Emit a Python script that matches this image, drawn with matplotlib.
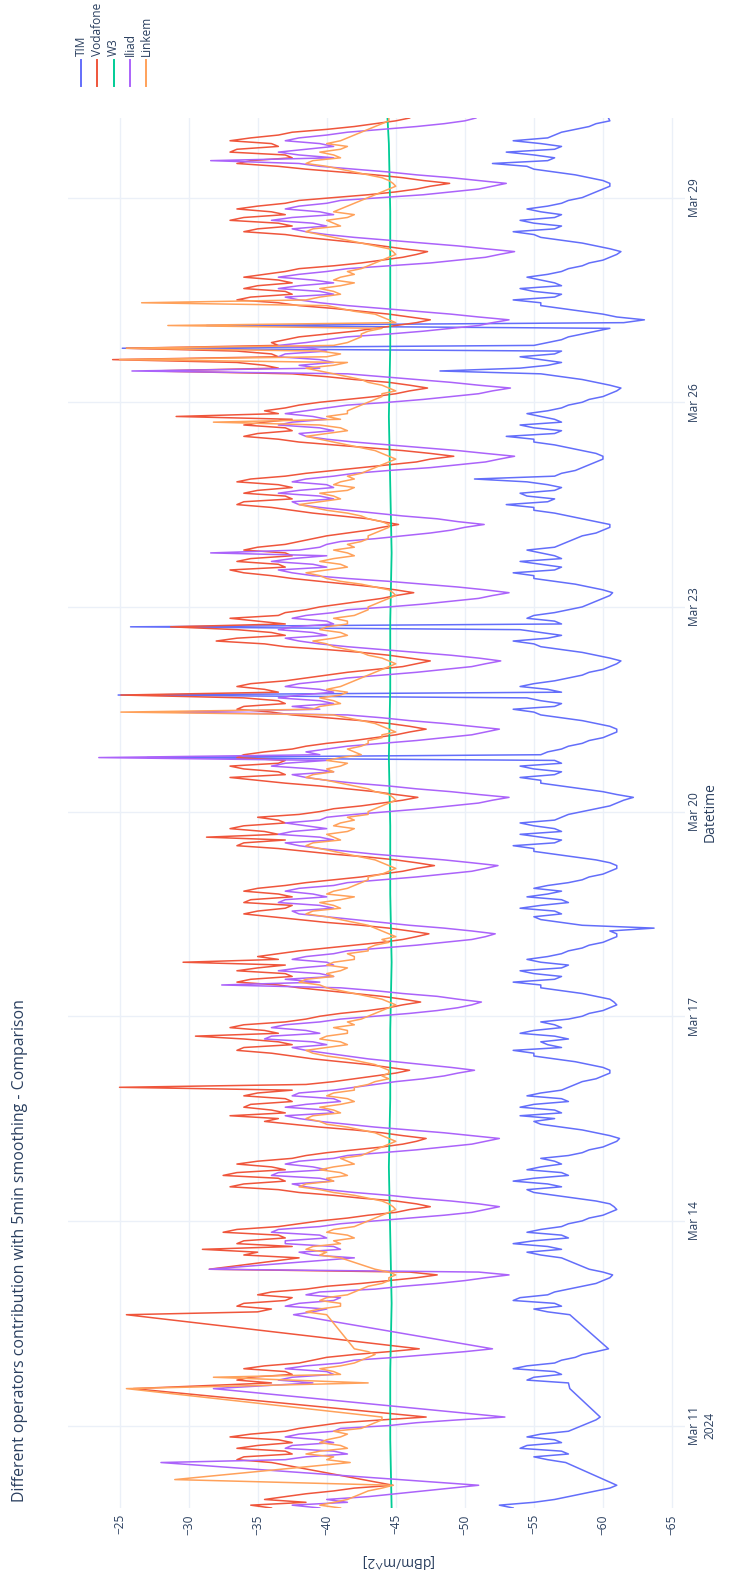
import numpy as np
import pandas as pd
import matplotlib
matplotlib.use("Agg")
import matplotlib.pyplot as plt
from matplotlib.lines import Line2D

plt.rcParams['font.family'] = ['Open Sans', 'DejaVu Sans']

# hourly readings, Mar 9 19:00 -> Mar 30 04:00 (None = no data, line jumps the gap)
times = pd.date_range("2024-03-09 19:00", "2024-03-30 04:00", freq="1h")

# first row Mar 9 19-23h, then one row per day 00..23h, last row Mar 30 00-04h
vodafone = [
    -36.0, -34.5, -38.5, -35.5, -37.0,
    -38.5, -40.5, -42.0, -44.8, None, None, None, None, None, None, None, -36.0, -33.5, -34.0, -37.5, -37.0, -33.5, -35.0, -37.5, -36.5, -33.0, -34.5, -37.0, -38.0,
    -39.5, -41.0, -44.0, -47.2, None, None, None, None, None, None, None, None, None, -26.0, None, -36.0, -33.5, -34.5, -37.5, -37.0, -34.0, -35.5, -38.0, -39.0,
    -40.0, -42.0, -44.5, -46.7, None, None, None, None, None, None, None, None, None, None, None, -25.5, -35.0, -36.0, -33.5, -34.0, -37.0, -37.5, -35.0, -36.0,
    -38.5, -40.0, -42.5, -44.5, -46.5, -48.0, -46.0, -31.5, None, None, None, -38.0, -34.0, -35.0, -31.0, -37.5, -33.5, -34.0, -37.0, -36.5, -32.5, -33.5, -36.5, -38.0,
    -39.5, -41.5, -43.0, -45.0, -46.0, -47.5, -46.5, -45.0, -42.5, -40.5, -38.0, -36.5, -33.0, -34.0, -37.0, -36.5, -32.5, -33.5, -37.0, -36.0, -33.5, -35.0, -37.5, -38.5,
    -40.0, -42.0, -44.0, -45.5, -46.5, -47.2, -45.5, -44.0, -42.0, -39.5, -37.5, -35.5, -36.5, -33.0, -37.0, -36.0, -34.0, -34.5, -37.5, -37.0, -34.0, -35.0, -37.5, -25.0,
    -38.5, -40.5, -42.0, -43.5, -45.0, -46.0, -44.5, -43.0, -41.0, -39.0, -37.5, -36.0, -33.5, -34.0, -37.5, -36.5, -34.0, -30.5, -36.5, -35.5, -33.0, -34.0, -37.0, -38.5,
    -39.5, -41.0, -43.0, -44.5, -45.5, -46.8, -45.5, -44.0, -42.0, -40.0, -38.0, -36.5, -33.5, -34.5, -37.5, -37.0, -33.5, -35.0, -37.0, -29.6, -36.5, -35.0, -36.5, -38.0,
    -40.0, -42.0, -44.0, -45.5, -46.5, -47.4, -46.0, -44.5, -42.5, -40.0, -38.0, -36.0, -34.0, -35.0, -37.0, -37.5, -34.0, -34.5, -37.5, -36.5, -34.0, -35.0, -37.0, -38.5,
    -40.5, -42.5, -44.0, -45.5, -46.5, -47.8, -46.5, -45.0, -43.0, -40.5, -38.5, -36.5, -33.5, -34.0, -37.0, -31.3, -36.5, -35.5, -33.0, -34.0, -37.0, -36.5, -35.0, -38.0,
    -39.5, -40.5, -42.5, -44.0, -45.5, -46.6, -45.0, -43.5, -41.5, -39.5, -37.0, -35.0, -33.0, -37.0, -36.5, -34.0, -33.0, -36.5, -37.0, -33.5, -34.0, -35.5, -37.5, -38.5,
    -40.0, -42.0, -43.5, -45.0, -46.0, -47.2, -46.0, -44.5, -42.5, -40.0, -37.5, -36.0, -33.5, -34.0, -37.0, -36.5, -34.0, -25.1, -36.5, -35.5, -33.5, -34.5, -37.0, -38.5,
    -40.0, -41.5, -43.5, -45.5, -46.5, -47.5, -46.0, -44.5, -42.5, -40.0, -37.0, -35.5, -32.0, -33.5, -37.0, -36.0, -33.5, -28.7, -37.0, -35.0, -33.0, -36.5, -37.0, -38.5,
    -39.5, -41.0, -42.5, -44.0, -45.0, -46.3, -45.0, -43.5, -41.5, -39.5, -37.5, -36.0, -34.0, -33.0, -37.0, -36.5, -33.5, -34.5, -37.5, -37.0, -34.0, -35.0, -37.0, -38.0,
    -39.0, -40.0, -41.5, -43.0, -44.0, -45.2, -44.0, -43.0, -41.0, -39.0, -37.5, -36.0, -33.5, -34.0, -37.5, -37.0, -34.0, -35.0, -37.5, -36.5, -33.5, -34.5, -37.0, -38.5,
    -40.5, -42.5, -44.5, -46.5, -47.5, -49.2, -47.5, -45.5, -43.0, -40.5, -38.0, -36.5, -34.0, -35.0, -37.5, -37.0, -34.0, -35.5, -37.5, -29.1, -36.5, -35.5, -37.0, -38.0,
    -39.5, -41.5, -43.5, -45.0, -46.0, -47.3, -46.0, -44.5, -42.0, -40.0, -37.5, -27.3, -36.5, -35.5, -33.5, -24.5, -36.5, -36.0, -33.5, -25.5, -36.5, -36.0, -37.0, -38.0,
    -40.0, -42.0, -43.5, -45.0, -46.5, -47.5, -46.0, -44.5, -42.5, -40.5, -38.0, -36.5, -33.5, -34.5, -37.5, -37.0, -34.0, -35.0, -37.5, -36.5, -34.0, -35.5, -37.0, -38.0,
    -40.5, -42.5, -44.0, -45.5, -46.5, -47.3, -45.5, -44.0, -42.5, -40.5, -38.5, -37.0, -34.0, -35.0, -37.5, -36.5, -33.0, -34.0, -37.0, -36.0, -33.5, -35.0, -37.0, -38.0,
    -40.5, -43.0, -45.0, -46.5, -47.5, -48.9, -47.0, -45.5, -43.5, -41.0, -38.5, -36.5, -33.5, -34.5, -37.5, -37.0, -33.0, -33.5, -36.5, -36.0, -33.0, -34.5, -36.5, -37.5,
    -40.0, -42.0, -43.5, -45.0, -46.0,
]

iliad = [
    -39.5, -37.5, -41.5, -40.0, -43.0,
    -45.0, -47.0, -49.0, -51.0, None, None, None, None, None, None, None, -28.0, -37.0, -38.5, -41.5, -40.5, -37.0, -37.5, -40.5, -39.5, -37.0, -38.0, -40.5, -41.0,
    -44.5, -46.5, -49.5, -52.9, None, None, None, None, None, None, None, None, None, -31.8, None, -39.0, -36.5, -37.5, -40.5, -40.0, -37.0, -38.5, -41.0, -42.0,
    -45.0, -47.5, -50.0, -52.0, None, None, None, None, None, None, None, None, None, None, None, -37.6, -39.0, -40.0, -37.0, -38.0, -40.5, -41.0, -38.5, -39.5,
    -43.5, -45.5, -48.0, -50.0, -51.5, -53.2, -51.0, -31.5, None, None, None, -42.0, -39.0, -38.0, -41.0, -40.5, -37.0, -37.0, -40.0, -39.5, -36.0, -36.5, -39.5, -41.0,
    -43.5, -46.0, -48.5, -50.5, -51.5, -52.5, -51.0, -49.0, -46.5, -44.5, -42.0, -40.0, -38.5, -37.5, -40.5, -39.5, -36.0, -36.5, -40.0, -39.0, -37.0, -38.0, -40.5, -41.5,
    -44.0, -46.5, -48.5, -50.5, -51.5, -52.5, -50.5, -48.5, -46.0, -43.5, -41.5, -39.5, -38.0, -37.0, -40.5, -40.0, -37.0, -38.5, -41.0, -40.5, -37.5, -38.0, -40.5, -42.0,
    -43.5, -45.0, -47.0, -48.5, -49.5, -50.7, -49.0, -47.0, -45.0, -43.0, -41.5, -40.0, -38.5, -37.5, -40.0, -39.0, -35.5, -36.0, -39.5, -38.5, -36.0, -37.0, -39.5, -41.0,
    -43.5, -46.0, -48.0, -49.5, -50.5, -51.2, -49.5, -48.0, -45.5, -43.5, -41.0, -32.4, -39.5, -37.0, -40.5, -39.5, -36.5, -38.0, -40.5, -40.0, -37.5, -38.5, -40.5, -41.5,
    -44.0, -46.5, -48.5, -50.5, -51.5, -52.2, -50.5, -48.5, -46.0, -44.0, -42.0, -40.0, -38.0, -37.5, -40.5, -39.5, -36.5, -37.0, -40.0, -39.0, -37.0, -38.0, -40.5, -41.5,
    -44.0, -46.5, -48.5, -50.5, -51.5, -52.4, -50.5, -48.5, -46.0, -43.5, -41.5, -39.5, -38.0, -37.0, -40.5, -39.5, -36.5, -37.5, -40.0, -38.5, -37.0, -39.5, -40.0, -42.0,
    -44.5, -47.0, -49.0, -51.0, -52.0, -53.2, -51.0, -49.0, -46.5, -44.5, -42.0, -40.0, -38.5, -37.5, -40.5, -39.0, -36.0, -37.0, -40.0, -23.5, -39.5, -38.5, -40.0, -41.5,
    -44.0, -46.5, -48.5, -50.5, -51.5, -52.5, -50.5, -48.5, -46.0, -44.0, -41.5, -28.7, -39.5, -37.5, -40.5, -39.5, -36.5, -38.0, -40.5, -39.5, -37.0, -38.0, -40.0, -41.5,
    -44.0, -46.5, -48.5, -50.5, -51.5, -52.6, -51.0, -49.0, -46.5, -44.0, -41.5, -39.5, -38.0, -37.0, -40.0, -39.0, -36.5, -37.5, -40.5, -40.0, -37.5, -38.5, -40.5, -41.5,
    -44.5, -47.0, -49.0, -51.0, -52.0, -53.2, -51.5, -49.5, -47.0, -44.5, -41.5, -39.0, -37.5, -36.5, -40.0, -39.0, -36.0, -37.5, -40.0, -31.6, -38.0, -39.5, -40.0, -41.0,
    -43.5, -45.5, -47.5, -49.0, -50.0, -51.4, -49.5, -48.0, -45.5, -43.5, -41.5, -39.5, -38.0, -37.5, -40.5, -39.5, -36.5, -38.0, -40.5, -40.0, -37.5, -38.5, -40.5, -42.0,
    -44.5, -47.5, -49.5, -51.5, -52.5, -53.6, -51.5, -49.5, -47.0, -44.5, -42.0, -40.0, -38.5, -38.0, -40.5, -39.5, -36.5, -37.5, -40.0, -39.0, -37.0, -38.5, -40.0, -41.5,
    -44.5, -47.0, -49.0, -51.0, -52.0, -53.3, -51.0, -49.0, -46.5, -44.0, -41.5, -25.9, -39.5, -38.0, -40.5, -39.5, -36.5, -37.0, -40.0, -39.0, -36.5, -38.5, -40.0, -41.5,
    -44.5, -47.0, -49.0, -51.0, -52.0, -53.2, -51.0, -49.0, -46.5, -44.0, -41.5, -39.5, -38.0, -37.0, -40.5, -39.5, -36.5, -38.0, -40.5, -39.0, -36.5, -38.0, -40.0, -41.5,
    -44.5, -47.5, -49.5, -51.5, -52.5, -53.6, -51.5, -49.5, -47.0, -44.5, -42.0, -40.0, -38.5, -37.5, -40.0, -39.0, -36.0, -37.5, -40.5, -39.5, -37.0, -38.0, -40.0, -41.0,
    -44.0, -47.0, -49.0, -51.0, -52.0, -53.0, -51.0, -49.0, -46.5, -44.5, -42.0, -39.5, -38.0, -31.6, -40.5, -38.0, -36.5, -38.5, -40.5, -39.5, -37.0, -38.0, -40.0, -41.5,
    -44.0, -46.5, -48.5, -50.0, -50.8,
]

linkem = [
    -41.0, -39.5, -40.5, -41.5, -42.0,
    -42.5, -43.0, -44.0, -44.8, None, -29.0, None, None, None, None, None, -41.7, -40.0, -40.5, -38.5, -39.5, -41.5, -41.0, -39.5, -40.0, -41.0, -41.5, -40.5, -42.5,
    -43.0, -43.5, -44.0, -44.0, None, None, None, None, None, None, None, None, None, -25.5, None, -43.0, None, -31.8, -41.0, -40.5, -39.5, -41.0, -42.0, -42.5,
    -43.0, -43.5, -43.0, -42.0, None, None, None, None, None, None, None, None, None, None, None, -40.0, -38.5, -39.5, -41.0, -41.0, -39.5, -40.0, -41.5, -42.0,
    -42.5, -43.0, -44.0, -44.5, -44.5, -45.0, -44.5, -43.5, None, None, None, -41.0, -39.5, -40.0, -38.5, -39.0, -41.0, -40.5, -42.0, -41.5, -40.0, -40.5, -42.0, -42.5,
    -43.0, -43.5, -44.0, -44.5, -45.0, -44.8, -44.5, -44.0, -43.0, -42.0, -40.5, -39.5, -38.0, -38.5, -40.5, -40.0, -41.5, -41.0, -39.5, -40.5, -42.0, -41.5, -41.0, -42.5,
    -43.0, -43.5, -44.0, -44.5, -45.0, -44.5, -44.0, -43.5, -42.5, -41.5, -40.0, -39.5, -38.5, -39.0, -41.0, -40.5, -39.5, -41.0, -42.0, -41.5, -40.0, -40.5, -42.0, -42.0,
    -43.0, -43.5, -44.5, -44.0, -44.5, -44.5, -44.0, -43.5, -42.5, -41.5, -40.0, -39.0, -38.5, -40.0, -41.5, -41.0, -39.5, -40.0, -41.5, -41.5, -40.5, -42.0, -41.5, -42.5,
    -43.0, -43.5, -44.0, -44.5, -45.0, -44.5, -44.0, -43.0, -42.0, -41.0, -40.0, -39.5, -38.0, -38.5, -40.5, -40.0, -41.0, -41.5, -40.0, -40.5, -42.0, -42.0, -41.5, -43.0,
    -43.0, -43.5, -44.5, -44.0, -45.0, -44.5, -44.0, -43.5, -43.0, -42.0, -41.0, -40.0, -38.5, -39.0, -41.0, -40.5, -39.5, -41.0, -42.0, -40.0, -40.5, -41.5, -42.0, -42.5,
    -43.0, -43.0, -44.0, -44.5, -45.0, -44.5, -44.0, -43.5, -42.5, -41.5, -40.5, -39.5, -38.5, -39.0, -41.0, -40.5, -40.0, -41.5, -42.0, -40.5, -41.0, -42.0, -41.5, -43.0,
    -43.0, -43.5, -44.0, -44.5, -45.0, -44.8, -44.5, -43.5, -43.0, -42.0, -41.0, -40.0, -38.5, -39.0, -40.5, -40.0, -41.0, -41.5, -40.0, -41.0, -42.5, -42.0, -41.5, -42.5,
    -43.0, -43.0, -44.0, -44.0, -45.0, -44.5, -44.0, -43.5, -42.5, -41.5, -40.5, -25.1, -39.0, -39.5, -41.0, -40.5, -39.5, -41.0, -41.5, -40.0, -41.0, -41.5, -42.0, -42.5,
    -43.0, -43.5, -44.0, -44.5, -45.0, -44.5, -44.0, -43.0, -42.5, -41.5, -40.5, -40.0, -39.0, -40.5, -41.5, -41.0, -39.5, -40.0, -41.5, -41.5, -40.5, -42.0, -42.5, -43.0,
    -43.0, -43.5, -44.0, -44.5, -45.0, -44.8, -44.5, -43.5, -42.5, -41.0, -40.0, -39.5, -38.5, -40.0, -41.5, -41.0, -39.5, -40.5, -42.0, -41.5, -40.5, -42.0, -41.5, -42.5,
    -43.0, -43.0, -43.5, -44.0, -44.5, -44.5, -44.0, -43.0, -42.5, -41.5, -40.0, -39.0, -38.0, -39.5, -41.0, -40.5, -39.5, -41.5, -42.0, -40.5, -41.0, -42.0, -41.5, -42.5,
    -43.0, -43.5, -44.0, -44.5, -45.0, -44.5, -44.0, -43.5, -42.5, -41.5, -40.5, -39.5, -38.5, -40.0, -41.5, -41.0, -39.5, -31.8, -41.0, -40.0, -41.5, -41.5, -42.0, -42.5,
    -43.0, -43.5, -44.0, -44.0, -45.0, -44.5, -44.0, -43.0, -42.5, -41.5, -40.5, -39.5, -38.5, -40.5, -41.5, -25.0, -40.0, -41.0, -39.5, -25.5, -40.5, -41.5, -42.0, -42.5,
    -42.5, -43.0, -44.0, -28.5, -45.0, -44.5, -44.0, -43.5, -42.0, -41.0, -40.0, -26.6, -38.5, -39.5, -41.0, -40.5, -39.5, -41.0, -42.0, -40.5, -41.0, -42.0, -41.5, -42.5,
    -43.0, -43.5, -44.0, -44.5, -45.0, -44.8, -44.5, -43.5, -42.5, -41.5, -40.5, -39.5, -38.5, -39.0, -41.0, -40.5, -40.0, -41.5, -42.0, -40.5, -41.0, -41.5, -42.0, -42.5,
    -43.0, -43.5, -44.0, -44.5, -45.0, -44.8, -44.5, -44.0, -43.0, -42.0, -41.0, -40.0, -38.5, -39.0, -41.0, -40.5, -39.5, -41.0, -41.5, -40.0, -41.0, -41.5, -42.0, -42.5,
    -43.0, -43.5, -44.0, -44.5, -44.5,
]

tim = [
    -53.5, -52.5, -55.0, -56.5, -57.5,
    -58.5, -59.5, -60.5, -61.0, None, None, None, None, None, None, None, -57.3, -56.0, -55.0, -57.5, -57.0, -54.0, -54.5, -57.0, -56.5, -54.5, -55.5, -57.5, -58.0,
    -58.5, -59.0, -59.5, -59.8, None, None, None, None, None, None, None, None, None, -57.6, None, -57.5, -54.5, -55.0, -57.0, -56.5, -53.5, -54.5, -56.5, -57.0,
    -58.0, -58.5, -59.5, -60.4, None, None, None, None, None, None, None, None, None, None, None, -57.6, -56.0, -55.0, -57.0, -56.5, -53.5, -54.0, -56.0, -56.5,
    -57.5, -58.5, -59.5, -60.0, -60.5, -60.7, -60.0, -59.0, None, None, None, -57.0, -55.5, -54.5, -57.0, -56.0, -53.5, -55.0, -57.5, -57.0, -54.5, -55.5, -57.0, -57.5,
    -58.5, -59.0, -60.0, -60.5, -61.0, -60.8, -60.5, -59.5, -58.0, -56.5, -55.0, -54.5, -57.0, -56.0, -53.5, -55.0, -57.5, -57.0, -54.5, -55.5, -57.0, -56.5, -55.5, -57.5,
    -58.5, -59.0, -60.0, -60.5, -61.0, -61.2, -60.5, -59.5, -58.5, -57.0, -55.5, -55.0, -56.5, -54.0, -57.0, -56.5, -54.0, -55.0, -57.5, -57.0, -54.5, -55.5, -57.0, -57.5,
    -58.0, -58.5, -59.5, -60.0, -60.5, -60.5, -60.0, -59.0, -58.0, -56.5, -55.0, -55.0, -53.5, -57.0, -56.0, -55.5, -57.5, -56.5, -54.0, -55.0, -57.0, -56.5, -55.5, -57.5,
    -58.5, -59.0, -60.0, -60.5, -61.0, -60.8, -60.5, -59.5, -58.5, -57.0, -55.5, -55.5, -53.5, -56.5, -57.0, -55.0, -54.0, -57.0, -57.5, -55.5, -54.5, -56.0, -57.0, -57.5,
    -58.5, -59.0, -60.0, -60.5, -61.0, -61.0, -60.5, -63.7, -58.5, -57.0, -55.5, -55.0, -57.0, -56.5, -54.0, -55.5, -57.5, -57.0, -54.5, -56.0, -57.0, -55.0, -56.0, -57.5,
    -58.5, -59.0, -60.0, -60.5, -61.0, -61.0, -60.5, -59.5, -58.0, -56.5, -55.0, -55.0, -53.5, -56.5, -57.0, -55.5, -54.0, -57.0, -56.5, -55.0, -54.0, -56.5, -57.0, -57.5,
    -58.5, -59.5, -60.5, -61.0, -61.5, -62.2, -61.0, -60.0, -58.5, -57.0, -55.5, -55.5, -54.0, -56.5, -57.0, -55.0, -54.0, -57.0, -56.5, -27.0, -55.5, -56.0, -57.0, -57.5,
    -58.5, -59.0, -60.0, -60.5, -61.0, -61.0, -60.5, -59.5, -58.5, -57.0, -55.5, -55.0, -53.5, -56.5, -57.0, -55.5, -54.5, -24.9, -57.0, -56.0, -54.0, -55.0, -56.5, -57.5,
    -58.5, -59.0, -60.0, -60.5, -61.0, -61.3, -60.5, -59.5, -58.5, -57.0, -55.5, -55.0, -53.5, -56.0, -57.0, -55.5, -54.0, -25.8, -57.0, -56.5, -54.5, -55.0, -56.5, -57.5,
    -58.5, -59.0, -59.5, -60.0, -60.5, -60.7, -60.0, -59.0, -58.0, -56.5, -55.0, -55.0, -53.5, -56.5, -57.0, -55.5, -54.0, -57.0, -56.5, -55.5, -54.5, -56.5, -57.0, -57.5,
    -58.0, -58.5, -59.5, -60.0, -60.5, -60.5, -59.5, -58.5, -57.5, -56.5, -55.0, -55.0, -53.0, -56.0, -56.5, -54.5, -54.0, -56.5, -57.0, -56.0, -54.5, -50.7, -56.5, -57.0,
    -58.0, -58.5, -59.0, -59.5, -60.0, -60.0, -59.5, -58.5, -57.5, -56.5, -55.0, -55.0, -53.0, -56.5, -57.0, -55.0, -54.0, -57.0, -56.5, -55.5, -54.5, -56.0, -57.0, -57.5,
    -58.5, -59.0, -60.0, -60.5, -61.0, -61.3, -60.5, -59.5, -58.5, -57.0, -55.5, -48.2, -54.0, -56.0, -57.0, -55.5, -54.0, -56.5, -57.0, -25.2, -55.0, -56.0, -57.0, -57.5,
    -58.5, -59.5, -60.5, -31.3, -61.5, -63.0, -61.0, -60.0, -58.5, -57.0, -55.5, -55.5, -53.5, -56.5, -57.0, -55.0, -54.0, -57.0, -56.5, -55.5, -54.5, -56.0, -57.0, -57.5,
    -58.5, -59.0, -60.0, -60.5, -61.0, -61.3, -60.5, -59.5, -58.5, -57.0, -55.5, -55.0, -53.5, -56.5, -57.0, -55.0, -54.0, -56.5, -57.0, -55.5, -54.5, -56.0, -57.0, -57.5,
    -58.5, -59.0, -59.5, -60.0, -60.5, -60.5, -60.0, -59.0, -58.0, -56.5, -55.0, -54.5, -52.0, -56.0, -56.5, -55.0, -53.0, -56.5, -57.0, -55.5, -53.5, -56.0, -56.5, -57.0,
    -58.0, -59.0, -59.5, -60.5, -60.4,
]

# W3 is almost flat: one reading per day plus the last one
w3_idx = list(range(0, len(times), 24)) + [len(times) - 1]
w3 = [-44.7, -44.6, -44.6, -44.7, -44.6, -44.5, -44.6, -44.6, -44.7, -44.6, -44.6,
      -44.5, -44.6, -44.6, -44.7, -44.6, -44.5, -44.6, -44.6, -44.6, -44.5, -44.4]

names = ["TIM", "Vodafone", "W3", "Iliad", "Linkem"]
colors = ["#636EFA", "#EF553B", "#00CC96", "#AB63FA", "#FFA15A"]

date_ticks = ["2024-03-11", "2024-03-14", "2024-03-17", "2024-03-20",
              "2024-03-23", "2024-03-26", "2024-03-29"]
date_labels = ["Mar 11\n2024", "Mar 14", "Mar 17", "Mar 20", "Mar 23", "Mar 26", "Mar 29"]
value_ticks = [-25, -30, -35, -40, -45, -50, -55, -60, -65]

W, H = 738, 1573
txt = "#2a3f5f"
grid = "#EBF0F8"

fig = plt.figure(figsize=(W / 100, H / 100), dpi=100)
ax = fig.add_axes([68 / W, 1 - 1508 / H, (685 - 68) / W, (1508 - 118) / H])

t = times.to_numpy()
series = {"TIM": tim, "Vodafone": vodafone, "Iliad": iliad, "Linkem": linkem}
for name, col in zip(names, colors):
    if name == "W3":
        ax.plot(w3, t[w3_idx], color=col, lw=1.3)
        continue
    v = np.array(series[name], dtype=float)
    m = ~np.isnan(v)
    ax.plot(v[m], t[m], color=col, lw=1.1)

# figure is the plotly chart turned a quarter turn
ax.set_xlim(-21.27, -65.94)
ax.set_ylim(pd.Timestamp("2024-03-09 19:00"), pd.Timestamp("2024-03-30 04:00"))

ax.set_xticks(value_ticks)
ax.set_xticklabels([f"\u2212{abs(v)}" for v in value_ticks], rotation=90,
                   fontsize=8.6, color=txt)
ax.set_yticks([pd.Timestamp(d) for d in date_ticks])
ax.set_yticklabels(date_labels, rotation=90, fontsize=8.6, color=txt,
                   multialignment="center")
ax.yaxis.tick_right()
ax.tick_params(axis="both", length=0)
ax.tick_params(axis="x", pad=4.5)
ax.tick_params(axis="y", pad=2.5)
for lab in ax.get_yticklabels():
    lab.set_verticalalignment("center")
ax.grid(True, color=grid, lw=1)
ax.set_axisbelow(True)
for s in ax.spines.values():
    s.set_visible(False)

fig.text(20 / W, 1 - 1502 / H,
         "Different operators contribution with 5min smoothing - Comparison",
         rotation=90, ha="center", va="bottom", fontsize=11.4, color=txt)
fig.text(710 / W, 1 - 812 / H, "Datetime", rotation=90, ha="center", va="center",
         fontsize=10, color=txt)
fig.text(396 / W, 1 - 1560 / H, "[dBm/m^2]", rotation=180, ha="center", va="center",
         fontsize=10, color=txt)

# legend, drawn turned like the rest
for i, (name, col) in enumerate(zip(names, colors)):
    x = (81 + 16.3 * i) / W
    fig.add_artist(Line2D([x, x], [1 - 60 / H, 1 - 86 / H], color=col, lw=1.4,
                          transform=fig.transFigure))
    fig.text(x, 1 - 56 / H, name, rotation=90, ha="center", va="bottom",
             fontsize=8.6, color=txt)

fig.savefig("out.png", dpi=100, facecolor="white")
